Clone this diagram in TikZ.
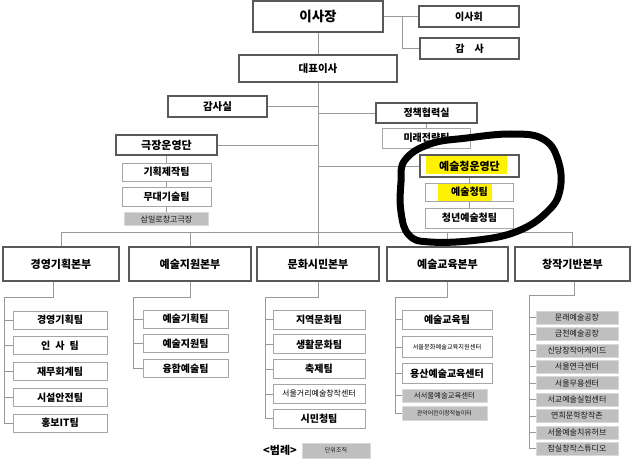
\documentclass[tikz,border=0pt]{standalone}
\usepackage{fontspec}
\setmainfont{Noto Sans CJK KR}
\usepackage{xcolor}
\usetikzlibrary{positioning}
\usetikzlibrary{backgrounds}
\definecolor{hl}{HTML}{FFF200}

\begin{document}
\begin{tikzpicture}
	[x=1pt,y=-1pt,inner sep=0pt,
	head/.style={draw=black!65,line width=1.6pt,font=\bfseries\fontsize{11}{13}\selectfont},
	team/.style={draw=black!35,line width=0.8pt,font=\bfseries\fontsize{10}{12}\selectfont},
	unit/.style={fill=black!25,draw=black!15,line width=0.6pt,text=black!90,font=\fontsize{8}{9}\selectfont},
	wire/.style={draw=black!40,line width=0.8pt}]
	\useasboundingbox (0,0) rectangle (631,462);
	% top
	\node [head,minimum width=130pt,minimum height=31pt,font=\bfseries\fontsize{13.5}{15}\selectfont] (ceo) at (318,16.5) {이사장};
	\node [head,line width=1.2pt,minimum width=100pt,minimum height=21pt,font=\bfseries\fontsize{10}{12}\selectfont] (board) at (469,16.5) {이사회};
	\node [head,line width=1.2pt,minimum width=99pt,minimum height=21pt,font=\bfseries\fontsize{10}{12}\selectfont] (audit) at (469.5,48.5) {감\quad 사};
	\node [head,minimum width=158pt,minimum height=27pt,font=\bfseries\fontsize{10.5}{12}\selectfont] (rep) at (318,68.5) {대표이사};
	\node [head,minimum width=99pt,minimum height=21pt,font=\bfseries\fontsize{10.5}{12}\selectfont] (auditoff) at (217.5,106.5) {감사실};
	\node [head,line width=1.2pt,minimum width=101pt,minimum height=20pt,font=\bfseries\fontsize{10}{12}\selectfont] (policy) at (426.5,113) {정책협력실};
	\node [team,minimum width=88pt,minimum height=20pt] (future) [below=4pt of policy] {미래전략팀};
	% theater
	\node [head,minimum width=101pt,minimum height=20pt] (theater) at (166.5,145) {극장운영단};
	\node [team,minimum width=89pt,minimum height=18pt] (plan) [below=7pt of theater] {기획제작팀};
	\node [team,minimum width=89pt,minimum height=19pt] (stage) [below=5pt of plan] {무대기술팀};
	\node [unit,minimum width=84pt,minimum height=13pt] (samil) [below=6pt of stage] {삼일로창고극장};
	% art hall
	\begin{scope}[on background layer]
	\fill[hl] (426,155) rectangle (507,174);
	\fill[hl] (438,184) rectangle (492,202);
	\end{scope}
	\node [head,minimum width=99pt,minimum height=22pt] (yeon) at (469.5,166) {예술청운영단};
	\node [team,minimum width=88pt,minimum height=18pt] (yteam) [below=5pt of yeon] {예술청팀};
	\node [team,minimum width=88pt,minimum height=20pt] (youth) [below=6pt of yteam] {청년예술청팀};
	% headquarters
	\node [head,minimum width=116pt,minimum height=34pt] (hq1) at (61,264) {경영기획본부};
	\node [head,minimum width=122pt,minimum height=34pt] (hq2) at (190,264) {예술지원본부};
	\node [head,minimum width=122pt,minimum height=34pt] (hq3) at (318,264) {문화시민본부};
	\node [head,minimum width=121pt,minimum height=34pt] (hq4) at (447.5,264) {예술교육본부};
	\node [head,minimum width=115pt,minimum height=34pt] (hq5) at (572.5,264) {창작기반본부};
	% column 1
	\node [team,minimum width=94pt,minimum height=18pt] (c1a) at (60,320) {경영기획팀};
	\node [team,minimum width=94pt,minimum height=18pt] (c1b) [below=7pt of c1a] {인\enspace 사\enspace 팀};
	\node [team,minimum width=94pt,minimum height=18pt] (c1c) [below=7pt of c1b] {재무회계팀};
	\node [team,minimum width=94pt,minimum height=18pt] (c1d) [below=7pt of c1c] {시설안전팀};
	\node [team,minimum width=94pt,minimum height=18pt] (c1e) [below=7pt of c1d] {홍보IT팀};
	% column 2
	\node [team,minimum width=85pt,minimum height=18pt] (c2a) at (185.5,319) {예술기획팀};
	\node [team,minimum width=85pt,minimum height=18pt] (c2b) [below=6pt of c2a] {예술지원팀};
	\node [team,minimum width=85pt,minimum height=18pt] (c2c) [below=6pt of c2b] {융합예술팀};
	% column 3
	\node [team,minimum width=92pt,minimum height=19pt] (c3a) at (319,319.5) {지역문화팀};
	\node [team,minimum width=92pt,minimum height=19pt] (c3b) [below=5pt of c3a] {생활문화팀};
	\node [team,minimum width=92pt,minimum height=19pt] (c3c) [below=5pt of c3b] {축제팀};
	\node [team,minimum width=92pt,minimum height=19pt,font=\fontsize{8}{9}\selectfont] (c3d) [below=5pt of c3c] {서울거리예술창작센터};
	\node [team,minimum width=92pt,minimum height=19pt] (c3e) [below=5pt of c3d] {시민청팀};
	% column 4
	\node [team,minimum width=90pt,minimum height=19pt] (c4a) at (447,319.5) {예술교육팀};
	\node [team,minimum width=90pt,minimum height=21pt,font=\fontsize{6.2}{7}\selectfont] (c4b) [below=7pt of c4a] {서울문화예술교육지원센터};
	\node [team,minimum width=90pt,minimum height=20pt] (c4c) [below=5pt of c4b] {용산예술교육센터};
	\node [unit,minimum width=85pt,minimum height=13pt,font=\fontsize{7.4}{8}\selectfont,anchor=north west] (c4d) at ([yshift=-5pt]c4c.south west) {서서울예술교육센터};
	\node [unit,minimum width=85pt,minimum height=14pt,font=\fontsize{6}{7}\selectfont] (c4e) [below=3pt of c4d] {관악어린이창작놀이터};
	% column 5
	\node [unit,minimum width=82pt,minimum height=13pt] (c5a) at (577,317.5) {문래예술공장};
	\node [unit,minimum width=82pt,minimum height=13pt] (c5b) [below=2.8pt of c5a] {금천예술공장};
	\node [unit,minimum width=82pt,minimum height=13pt] (c5c) [below=2.8pt of c5b] {신당창작아케이드};
	\node [unit,minimum width=82pt,minimum height=13pt] (c5d) [below=2.8pt of c5c] {서울연극센터};
	\node [unit,minimum width=82pt,minimum height=13pt] (c5e) [below=2.8pt of c5d] {서울무용센터};
	\node [unit,minimum width=82pt,minimum height=13pt] (c5f) [below=2.8pt of c5e] {서교예술실험센터};
	\node [unit,minimum width=82pt,minimum height=13pt] (c5g) [below=2.8pt of c5f] {연희문학창작촌};
	\node [unit,minimum width=82pt,minimum height=13pt] (c5h) [below=2.8pt of c5g] {서울예술치유허브};
	\node [unit,minimum width=82pt,minimum height=13pt] (c5i) [below=2.8pt of c5h] {잠실창작스튜디오};
	% legend
	\node [font=\bfseries\fontsize{11}{12}\selectfont] (legend) at (280,450) {<범례>};
	\node [unit,minimum width=68pt,minimum height=15pt,font=\fontsize{6}{7}\selectfont] (key) at (336,450.5) {단위조직};
	% lines
	\coordinate (j1) at (402,16.5);
	\coordinate (bus) at (318,232);
	\draw[wire] (ceo.south) -- (rep.north);
	\draw[wire] (ceo.east) -- (board.west);
	\draw[wire] (j1) |- (audit.west);
	\draw[wire] (rep.south) -- (bus);
	\draw[wire] (auditoff.east) -- (auditoff.east -| rep.south);
	\draw[wire] (policy.west) -- (policy.west -| rep.south);
	\draw[wire] (theater.east) -- (theater.east -| rep.south);
	\draw[wire] (yeon.west) -- (yeon.west -| rep.south);
	\draw[wire] (policy.south) -- (future.north);
	\draw[wire] (theater.south) -- (plan.north);
	\draw[wire] (plan.south) -- (stage.north);
	\draw[wire] (stage.south) -- (samil.north);
	\draw[wire] (yeon.south) -- (yteam.north);
	\draw[wire] (yteam.south) -- (youth.north);
	\draw[wire] (hq1.north) -- (hq1.north |- bus) -- (hq5.north |- bus) -- (hq5.north);
	\draw[wire] (hq2.north) -- (hq2.north |- bus);
	\draw[wire] (hq3.north) -- (bus);
	\draw[wire] (hq4.north) -- (hq4.north |- bus);
	\coordinate (t1) at (4,297);
	\coordinate (t2) at (133,297);
	\coordinate (t3) at (265,297);
	\coordinate (t4) at (395,297);
	\coordinate (t5) at (529,295);
	\draw[wire] ([xshift=-8pt]hq1.south) |- (t1) |- (c1e.west);
	\draw[wire] (t1 |- c1a.west) -- (c1a.west) (t1 |- c1b.west) -- (c1b.west) (t1 |- c1c.west) -- (c1c.west) (t1 |- c1d.west) -- (c1d.west);
	\draw[wire] (hq2.south) |- (t2) |- (c2c.west);
	\draw[wire] (t2 |- c2a.west) -- (c2a.west) (t2 |- c2b.west) -- (c2b.west);
	\draw[wire] (hq3.south) |- (t3) |- (c3e.west);
	\draw[wire] (t3 |- c3a.west) -- (c3a.west) (t3 |- c3b.west) -- (c3b.west) (t3 |- c3c.west) -- (c3c.west) (t3 |- c3d.west) -- (c3d.west);
	\draw[wire] (hq4.south) |- (t4) |- (c4e.west);
	\draw[wire] (t4 |- c4a.west) -- (c4a.west) (t4 |- c4b.west) -- (c4b.west) (t4 |- c4c.west) -- (c4c.west) (t4 |- c4d.west) -- (c4d.west);
	\draw[wire] ([xshift=2pt]hq5.south) |- (t5) |- (c5i.west);
	\draw[wire] (t5 |- c5a.west) -- (c5a.west) (t5 |- c5b.west) -- (c5b.west) (t5 |- c5c.west) -- (c5c.west) (t5 |- c5d.west) -- (c5d.west)
		(t5 |- c5e.west) -- (c5e.west) (t5 |- c5f.west) -- (c5f.west) (t5 |- c5g.west) -- (c5g.west) (t5 |- c5h.west) -- (c5h.west);
	% hand-drawn mark
	\draw[line width=7pt,line cap=round,line join=round] plot[smooth cycle,tension=0.7] coordinates {(405,160) (430,144) (467,138) (512,134) (543,139) (558,160) (560,190) (547,212) (518,231) (478,240) (430,242) (409,235) (401,212) (401,182)};
\end{tikzpicture}
\end{document}
